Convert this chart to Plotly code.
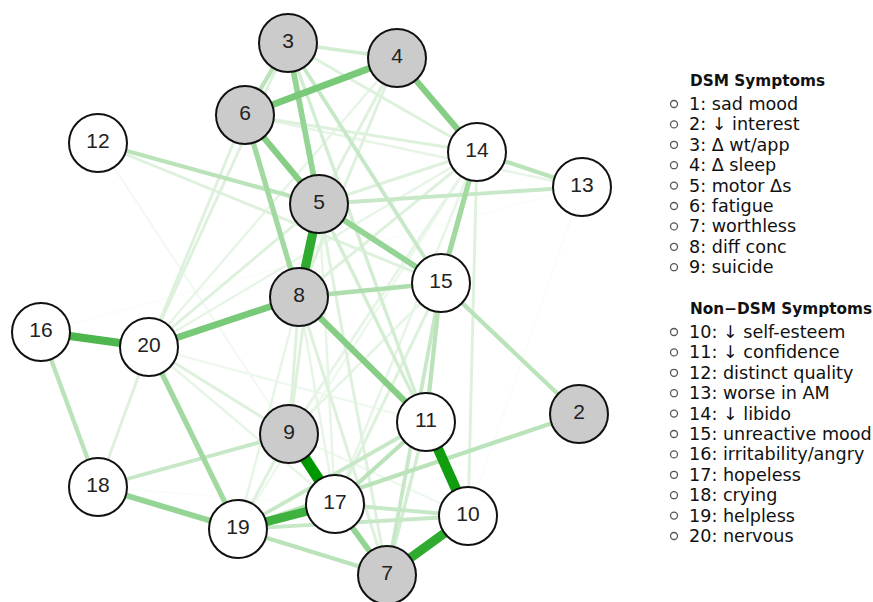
import plotly.graph_objects as go

# ---- data ----
node_ids = [2, 3, 4, 5, 6, 7, 8, 9, 10, 11, 12, 13, 14, 15, 16, 17, 18, 19, 20]
node_x = [579, 288, 397, 319, 245, 387, 299, 289, 468, 426, 98, 582, 477, 441, 41, 335, 98, 238, 149]
node_y = [414, 43, 58, 204, 115, 575, 297, 434, 516, 422, 143, 187, 152, 283, 332, 504, 487, 529, 347]
dsm_ids = [1, 2, 3, 4, 5, 6, 7, 8, 9]

edge_from = [9, 11, 10, 5, 17, 16, 8, 6, 6, 8, 4, 3, 17, 18, 5, 20, 14, 6, 8,
             11, 2, 15, 15, 12, 14, 16, 3, 13, 3, 3, 3, 3, 4, 4, 4, 6, 6,
             14, 14, 14, 14, 14, 14, 14, 13, 16, 12, 12, 20, 20, 20, 20, 20, 20,
             18, 18, 18, 19, 19, 19, 19, 19, 17, 17, 17, 7, 7, 7, 7, 11, 9, 9, 9, 9, 8, 8, 8]
edge_to = [17, 10, 7, 8, 19, 20, 20, 4, 5, 11, 14, 5, 7, 19, 15, 19, 15, 8, 15,
           17, 19, 2, 11, 5, 13, 18, 6, 5, 4, 14, 15, 11, 5, 8, 20, 14, 13,
           5, 8, 20, 9, 17, 10, 19, 10, 13, 15, 17, 6, 3, 5, 9, 17, 11,
           20, 9, 10, 7, 10, 11, 9, 8, 10, 15, 5, 11, 15, 5, 8, 5, 5, 15, 14, 10, 9, 17, 7]
edge_w = [1.0, 0.95, 0.85, 0.85, 0.8, 0.75, 0.6, 0.6, 0.55, 0.55, 0.55, 0.5, 0.5, 0.5, 0.5, 0.45, 0.45, 0.45, 0.4,
          0.35, 0.35, 0.35, 0.35, 0.35, 0.35, 0.35, 0.35, 0.3, 0.25, 0.2, 0.3, 0.25, 0.2, 0.2, 0.15, 0.2, 0.15,
          0.2, 0.2, 0.15, 0.15, 0.15, 0.2, 0.12, 0.05, 0.05, 0.2, 0.1, 0.2, 0.2, 0.2, 0.2, 0.15, 0.12,
          0.2, 0.3, 0.05, 0.35, 0.3, 0.3, 0.2, 0.15, 0.3, 0.2, 0.15, 0.25, 0.3, 0.2, 0.2, 0.25, 0.2, 0.15, 0.15, 0.12, 0.2, 0.15, 0.15]

dsm_labels = ["1: sad mood", "2: \u2193 interest", "3: \u0394 wt/app", "4: \u0394 sleep", "5: motor \u0394s",
              "6: fatigue", "7: worthless", "8: diff conc", "9: suicide"]
non_dsm_labels = ["10: \u2193 self-esteem", "11: \u2193 confidence", "12: distinct quality", "13: worse in AM",
                  "14: \u2193 libido", "15: unreactive mood", "16: irritability/angry", "17: hopeless",
                  "18: crying", "19: helpless", "20: nervous"]

# ---- figure ----
pos = {n: (x, y) for n, x, y in zip(node_ids, node_x, node_y)}
fig = go.Figure()

def edge_color(w):
    f = w ** 1.25
    r = int(round(255 - 255 * f))
    g = int(round(255 - (255 - 152) * f))
    return f"rgb({r},{g},{r})"

order = sorted(range(len(edge_w)), key=lambda i: edge_w[i])
for i in order:
    a, b, w = edge_from[i], edge_to[i], edge_w[i]
    if a not in pos or b not in pos:
        continue
    fig.add_trace(go.Scatter(
        x=[pos[a][0], pos[b][0]], y=[pos[a][1], pos[b][1]], mode="lines",
        line=dict(color=edge_color(w), width=1.3 + 9.5 * w ** 1.1),
        hoverinfo="skip", showlegend=False))

fig.add_trace(go.Scatter(
    x=node_x, y=node_y, mode="markers+text",
    text=[str(n) for n in node_ids], textposition="middle center",
    textfont=dict(family="Liberation Sans, Arial", size=21, color="#222222"),
    marker=dict(size=58, color=["#cbcbcb" if n in dsm_ids else "#ffffff" for n in node_ids],
                line=dict(color="#111111", width=2)),
    hoverinfo="skip", showlegend=False))

# legend
leg_x_text = 687
leg_x_bul = 674
step = 20.4
font_title = dict(family="DejaVu Sans, Verdana", size=15.3, color="#111111")
font_item = dict(family="DejaVu Sans, Verdana", size=17.6, color="#111111")
groups = [("<b>DSM Symptoms</b>", 81, dsm_labels), ("<b>Non\u2212DSM Symptoms</b>", 309, non_dsm_labels)]
bx, by = [], []
for title, y0, labels in groups:
    fig.add_annotation(x=leg_x_text + 1, y=y0, text=title, showarrow=False, xanchor="left",
                       yanchor="middle", font=font_title)
    for k, lab in enumerate(labels):
        yy = y0 + 23 + k * step
        fig.add_annotation(x=leg_x_text, y=yy, text=lab, showarrow=False, xanchor="left",
                           yanchor="middle", font=font_item)
        bx.append(leg_x_bul)
        by.append(yy)
fig.add_trace(go.Scatter(x=bx, y=by, mode="markers",
                         marker=dict(symbol="circle-open", size=7, color="#555555", line=dict(width=1.3)),
                         hoverinfo="skip", showlegend=False))

fig.update_layout(
    width=873, height=602, margin=dict(l=0, r=0, t=0, b=0),
    paper_bgcolor="white", plot_bgcolor="white",
    xaxis=dict(range=[0, 873], visible=False, fixedrange=True),
    yaxis=dict(range=[602, 0], visible=False, fixedrange=True),
)
fig.write_html("out.html", config={"displayModeBar": False},
               post_script="document.body.style.margin='0';document.body.style.overflow='hidden';")
